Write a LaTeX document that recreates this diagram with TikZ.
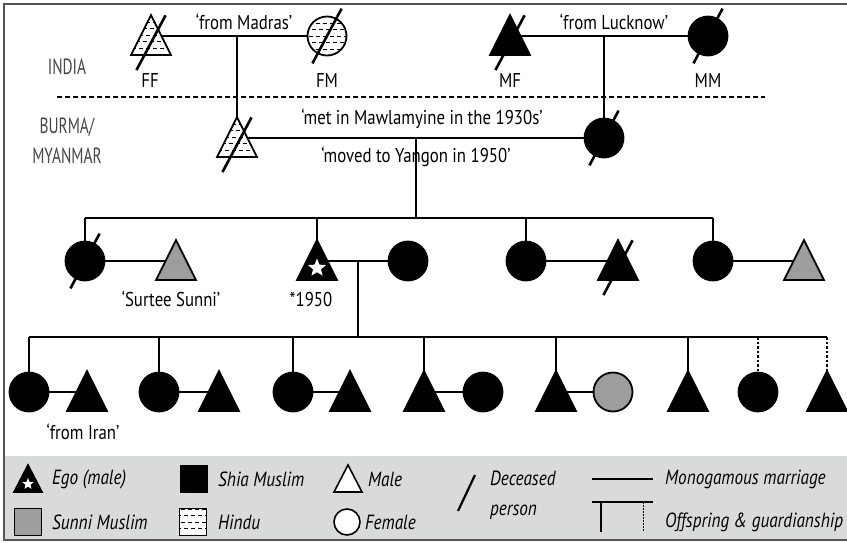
\documentclass[tikz,border=0pt]{standalone}
\usepackage{fontspec}
\setmainfont{PT Sans}[FakeStretch=0.84]
\newfontfamily\placefont{PT Sans}[FakeStretch=0.7]
\usetikzlibrary{shapes.geometric, positioning, calc, backgrounds}
\definecolor{cSunni}{RGB}{157,157,157}
\definecolor{cKey}{RGB}{217,218,218}
\definecolor{cFrame}{RGB}{85,85,85}
\definecolor{cPlace}{RGB}{70,70,70}
\tikzset{
    person/.style   ={draw=black, line width=1.8pt, inner sep=0pt, outer sep=0pt},
    female/.style   ={person, circle, minimum size=39pt},
    male/.style     ={person, isosceles triangle, isosceles triangle stretches, shape border rotate=90, minimum width=40pt, minimum height=40pt, yshift=-6.7pt},
    shia/.style     ={fill=black},
    sunni/.style    ={fill=cSunni},
    hindu/.style    ={fill=white, path picture={
        \foreach \r in {-5,...,5}
            \draw[line width=0.8pt, dash pattern=on 4pt off 3pt]
                ([xshift={-6pt+mod(\r,2)*3.5pt}, yshift=\r*6.5pt]path picture bounding box.west) -- ++(60pt,0);}},
    egostar/.style  ={star, star points=5, star point ratio=2.3, fill=white, minimum size=19pt, inner sep=0pt},
    tie/.style      ={line width=1.3pt},
    kin/.style      ={line width=1.3pt},
    ward/.style     ={line width=1.3pt, dash pattern=on 2.5pt off 2pt},
    deadmark/.style ={line width=2.6pt},
    txt/.style      ={font=\fontsize{20}{22}\selectfont, inner sep=0pt},
    place/.style    ={font=\placefont\fontsize{22}{30}\selectfont, text=cPlace, inner sep=0pt, align=center},
    keytxt/.style   ={font=\fontsize{20.5}{30}\selectfont\itshape, inner sep=0pt, anchor=west, align=left},
    keymale/.style  ={person, line width=1.6pt, isosceles triangle, isosceles triangle stretches, shape border rotate=90, minimum width=28pt, minimum height=27pt, yshift=-4.5pt},
    keysq/.style    ={draw=black, line width=1.6pt, minimum size=27pt, inner sep=0pt},
    keyfemale/.style={person, line width=1.6pt, circle, minimum size=26pt},
}
\newcommand{\deceased}[1]{\draw[deadmark] ($(#1)+(-118:31pt)$) -- ($(#1)+(62:31pt)$);}

\begin{document}
\begin{tikzpicture}[x=1pt, y=-1pt]
    \useasboundingbox (0,0) rectangle (847,542);
    \begin{scope}[on background layer]
        \fill[white] (0,0) rectangle (847,542);
        \fill[cKey] (4,456) rectangle (850,540);
    \end{scope}
    \draw[line width=1.5pt, draw=cFrame] (850,4) -- (4,4) -- (4,540) -- (850,540);

    % India / Burma
    \draw[line width=2pt, dash pattern=on 5pt off 3pt] (57,97) -- (765,97);
    \node[place] (india) at (67,67) {INDIA};
    \node[place] (burma) at (67,141) {BURMA/\\MYANMAR};

    % grandparents
    \node[male, hindu]   (ff) at (151,36) {};
    \node[female, hindu] (fm) at (327,36) {};
    \node[male, shia]    (mf) at (510,36) {};
    \node[female, shia]  (mm) at (708,36) {};
    \node[txt] (fflab) at (150,80) {FF};
    \node[txt] (fmlab) at (327,80) {FM};
    \node[txt] (mflab) at (510,80) {MF};
    \node[txt] (mmlab) at (708,80) {MM};
    \node[txt] (madras)  at (244,22) {‘from Madras’};
    \node[txt] (lucknow) at (614,22) {‘from Lucknow’};

    % parents
    \node[male, hindu]  (fa) at (237,138) {};
    \node[female, shia] (mo) at (604,138) {};
    \node[txt] (met)   at (422,119) {‘met in Mawlamyine in the 1930s’};
    \node[txt] (moved) at (416,157) {‘moved to Yangon in 1950’};

    % ego and siblings
    \node[female, shia] (s1)  at (85,261)  {};
    \node[male, sunni]  (h1)  at (176,261) {};
    \node[male, shia]   (ego) at (317,261) {};
    \node[egostar]      (egomark) at (317,268) {};
    \node[female, shia] (w)   at (408,261) {};
    \node[female, shia] (s3)  at (526,261) {};
    \node[male, shia]   (h3)  at (618,261) {};
    \node[female, shia] (s4)  at (713,261) {};
    \node[male, sunni]  (h4)  at (804,261) {};
    \node[txt] (surtee) at (171,299) {‘Surtee Sunni’};
    \node[txt] (born)   at (311,299) {*1950};

    % children
    \node[female, shia]  (g1)  at (29,392)  {};
    \node[male, shia]    (g1h) at (87,392)  {};
    \node[female, shia]  (g2)  at (159,392) {};
    \node[male, shia]    (g2h) at (219,392) {};
    \node[female, shia]  (g3)  at (293,392) {};
    \node[male, shia]    (g3h) at (350,392) {};
    \node[male, shia]    (g4)  at (424,392) {};
    \node[female, shia]  (g4w) at (483,392) {};
    \node[male, shia]    (g5)  at (556,392) {};
    \node[female, sunni] (g5w) at (613,392) {};
    \node[male, shia]    (g6)  at (688,392) {};
    \node[female, shia]  (g7)  at (758,392) {};
    \node[male, shia]    (g8)  at (827,392) {};
    \node[txt] (iran) at (83,432) {‘from Iran’};

    % lines
    \begin{scope}[on background layer]
        \draw[tie] (ff |- fm) -- (fm.center);
        \draw[tie] (mf |- mm) -- (mm.center);
        \draw[kin] (fa |- fm) -- (fa.center);
        \draw[kin] (mo |- mm) -- (mo.center);
        \draw[tie] (fa |- mo) -- (mo.center);
        \coordinate (c1) at ($(fa |- mo)!0.488!(mo)$);
        \coordinate (bar2) at ($(c1)+(0,80)$);
        \draw[kin] (c1) -- (bar2);
        \draw[kin] (s1 |- bar2) -- (s4 |- bar2);
        \foreach \n in {s1,ego,s3,s4}
            \draw[kin] (\n |- bar2) -- (\n.center);
        \draw[tie] (s1.center) -- (h1 |- s1);
        \draw[tie] (ego |- w) -- (w.center);
        \draw[tie] (s3.center) -- (h3 |- s3);
        \draw[tie] (s4.center) -- (h4 |- s4);
        \coordinate (c2) at ($(ego |- w)!0.45!(w)$);
        \coordinate (bar3) at ($(c2)+(0,76)$);
        \draw[kin] (c2) -- (bar3);
        \draw[kin] (g1 |- bar3) -- (g8 |- bar3);
        \foreach \n in {g1,g2,g3,g4,g5,g6}
            \draw[kin] (\n |- bar3) -- (\n.center);
        \foreach \n in {g7,g8}
            \draw[ward] (\n |- bar3) -- (\n.center);
        \draw[tie] (g1.center) -- (g1h |- g1);
        \draw[tie] (g2.center) -- (g2h |- g2);
        \draw[tie] (g3.center) -- (g3h |- g3);
        \draw[tie] (g4 |- g4w) -- (g4w.center);
        \draw[tie] (g5 |- g5w) -- (g5w.center);
    \end{scope}

    % deceased
    \deceased{ff}
    \deceased{fm}
    \deceased{mf}
    \deceased{mm}
    \deceased{fa}
    \deceased{mo}
    \deceased{s1}
    \deceased{h3}

    % key
    \node[keymale, shia] (kego) at (28,479) {};
    \node[egostar, minimum size=12pt] (kstar) at (28,484) {};
    \node[keytxt] (kegot) at (52,479) {Ego (male)};
    \node[keysq, shia] (kshia) at (194,479) {};
    \node[keytxt] (kshiat) at (218,479) {Shia Muslim};
    \node[keymale, fill=white] (kmale) at (348,479) {};
    \node[keytxt] (kmalet) at (368,479) {Male};
    \node[keysq, sunni] (ksunni) at (28,522) {};
    \node[keytxt] (ksunnit) at (52,522) {Sunni Muslim};
    \node[keysq, hindu] (khindu) at (193,522) {};
    \node[keytxt] (khindut) at (218,522) {Hindu};
    \node[keyfemale, fill=white] (kfemale) at (347,522) {};
    \node[keytxt] (kfemalet) at (365,522) {Female};
    \draw[deadmark, line width=2.2pt] (458,511) -- (475,475);
    \node[keytxt] (kdeadt) at (490,495) {Deceased\\person};
    \draw[tie] (592,479) -- (653,479);
    \node[keytxt] (ktiet) at (665,479) {Monogamous marriage};
    \draw[kin] (592,502) -- (653,502);
    \draw[kin] (601,502) -- (601,532);
    \draw[kin, line width=1pt, dash pattern=on 1.5pt off 1.5pt] (643,502) -- (643,532);
    \node[keytxt] (kkint) at (665,522) {Offspring \& guardianship};
\end{tikzpicture}
\end{document}
